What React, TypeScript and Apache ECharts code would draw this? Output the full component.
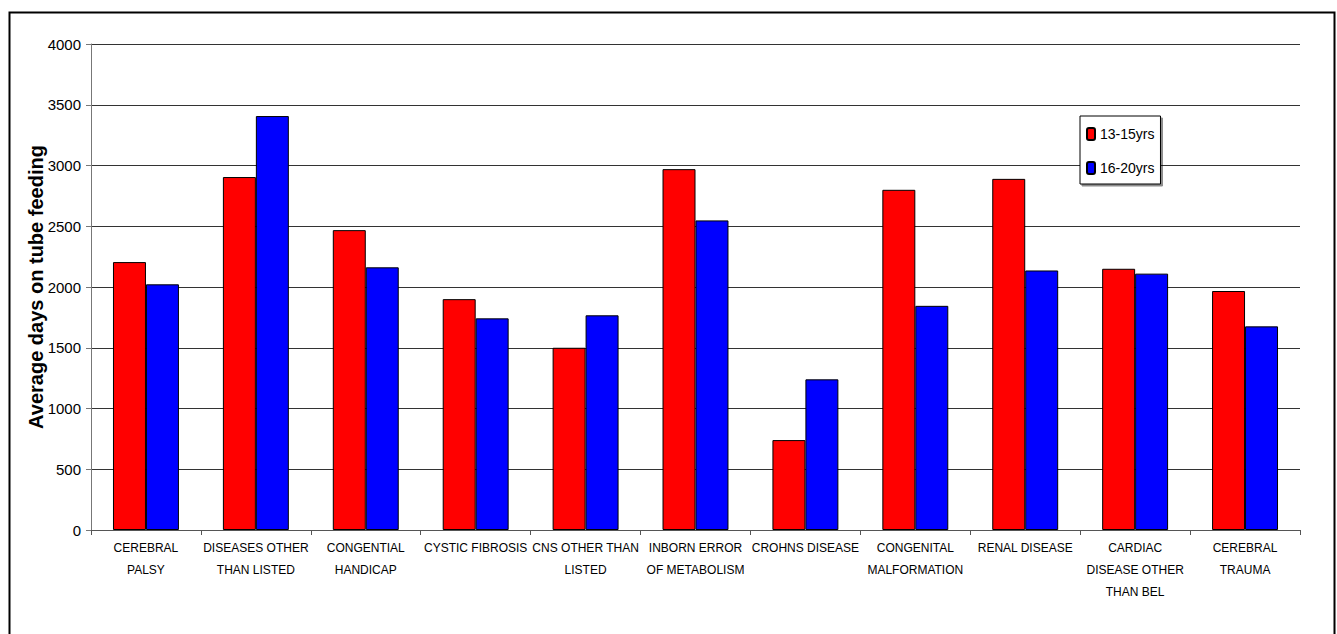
import React, { useEffect, useRef } from "react";
import * as echarts from "echarts";

const categories = [
  "CEREBRAL\nPALSY",
  "DISEASES OTHER\nTHAN LISTED",
  "CONGENTIAL\nHANDICAP",
  "CYSTIC FIBROSIS",
  "CNS OTHER THAN\nLISTED",
  "INBORN ERROR\nOF METABOLISM",
  "CROHNS DISEASE",
  "CONGENITAL\nMALFORMATION",
  "RENAL DISEASE",
  "CARDIAC\nDISEASE OTHER\nTHAN BEL",
  "CEREBRAL\nTRAUMA",
];

const seriesNames = ["13-15yrs", "16-20yrs"];
const values1315 = [2205, 2905, 2468, 1900, 1500, 2970, 740, 2800, 2890, 2150, 1967];
const values1620 = [2022, 3407, 2162, 1742, 1767, 2548, 1240, 1845, 2136, 2110, 1676];

const yAxisTitle = "Average days on tube feeding";
const yMin = 0;
const yMax = 4000;
const yInterval = 500;

const FONT = "'Liberation Sans', Arial, sans-serif";

export default function App() {
  const ref = useRef<HTMLDivElement>(null);
  useEffect(() => {
    if (!ref.current) return;
    const chart = echarts.init(ref.current, null, { renderer: "svg" });
    chart.setOption({
      animation: false,
      backgroundColor: "#fff",
      grid: { left: 91, right: 37, top: 44, bottom: 104, containLabel: false },
      legend: {
        orient: "vertical",
        left: 1080,
        top: 116,
        data: seriesNames,
        itemWidth: 8,
        itemHeight: 12,
        itemGap: 20,
        padding: [11, 6, 9, 6],
        backgroundColor: "#fff",
        borderColor: "#000",
        borderWidth: 1,
        shadowColor: "rgba(0,0,0,0.45)",
        shadowOffsetX: 2,
        shadowOffsetY: 2,
        shadowBlur: 1,
        textStyle: { fontFamily: FONT, fontSize: 14, color: "#000" },
      },
      xAxis: {
        type: "category",
        data: categories,
        axisLine: { lineStyle: { color: "#555", width: 1 } },
        axisTick: { show: true, length: 5, lineStyle: { color: "#555" } },
        axisLabel: {
          interval: 0,
          fontFamily: FONT,
          fontSize: 12,
          lineHeight: 22,
          color: "#000",
          margin: 7,
        },
      },
      yAxis: {
        type: "value",
        min: yMin,
        max: yMax,
        interval: yInterval,
        name: yAxisTitle,
        nameLocation: "middle",
        nameRotate: 90,
        nameGap: 55,
        nameMoveOverlap: false,
        nameTextStyle: {
          fontFamily: FONT,
          fontWeight: "bold",
          fontSize: 20,
          color: "#000",
          verticalAlign: "middle",
        },
        axisLine: { show: true, lineStyle: { color: "#777", width: 1 } },
        axisTick: { show: true, length: 5, lineStyle: { color: "#777" } },
        axisLabel: {
          fontFamily: FONT,
          fontSize: 15,
          color: "#000",
          margin: 10,
          formatter: (v: number) => String(v),
        },
        splitLine: { show: true, lineStyle: { color: "#333", width: 1 } },
      },
      series: [
        {
          name: seriesNames[0],
          type: "bar",
          data: values1315,
          barGap: "0%",
          barCategoryGap: "40%",
          itemStyle: { color: "#ff0000", borderColor: "#000", borderWidth: 1 },
        },
        {
          name: seriesNames[1],
          type: "bar",
          data: values1620,
          barGap: "0%",
          barCategoryGap: "40%",
          itemStyle: { color: "#0000ff", borderColor: "#000", borderWidth: 1 },
        },
      ],
      graphic: [
        {
          type: "rect",
          left: 7,
          top: 10,
          shape: { x: 0, y: 0, width: 1325, height: 660 },
          style: { fill: "none", stroke: "#000", lineWidth: 2 },
          silent: true,
          z: 100,
        },
      ],
    });
    return () => chart.dispose();
  }, []);
  return (
    <div
      ref={ref}
      style={{ position: "fixed", left: 0, top: 0, width: 1337, height: 634 }}
    />
  );
}
